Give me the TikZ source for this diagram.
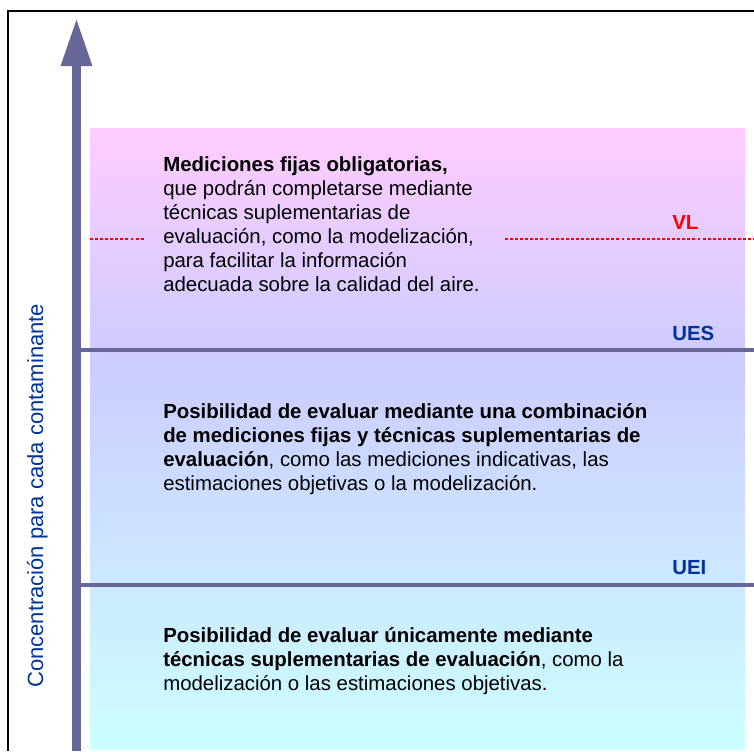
\documentclass[tikz,border=0pt]{standalone}
\usepackage{fontspec}
\setmainfont{Liberation Sans}
\usetikzlibrary{arrows.meta}
\definecolor{axisc}{HTML}{666699}
\definecolor{lblue}{HTML}{003399}
\definecolor{vlred}{HTML}{FF0000}
\definecolor{pinkc}{HTML}{FFCCFF}
\definecolor{lavc}{HTML}{CCCCFF}
\definecolor{cyanc}{HTML}{CCFFFF}
\pgfdeclareverticalshading{bgshade}{100bp}{color(0bp)=(cyanc); color(25bp)=(cyanc); color(56bp)=(lavc); color(75bp)=(pinkc); color(100bp)=(pinkc)}
\begin{document}
\begin{tikzpicture}[x=0.75pt,y=-0.75pt,
  bodytext/.style={anchor=north west, inner sep=0pt, align=left, text=black,
    font=\fontsize{15.3}{18.1}\selectfont},
  levellabel/.style={anchor=base west, inner sep=0pt, font=\fontsize{15.3}{18}\selectfont\bfseries},
  levelline/.style={draw=axisc, line width=2.5pt},
  vlline/.style={draw=vlred, line width=1pt, dash pattern=on 2.2pt off 1.6pt}]
\useasboundingbox (0,0) rectangle (754,751);
% frame
\coordinate (fb) at (8,751);
\coordinate (ftl) at (8,11);
\coordinate (ftr) at (754,11);
\draw[line width=2pt, line join=miter] (fb) -- (ftl) -- (ftr);
% gradient zone
\shade[shading=bgshade] (90,128) rectangle (745,749);
% VL dashed line
\coordinate (vl1a) at (90,239);
\coordinate (vl1b) at (145,239);
\coordinate (vl2a) at (505,239);
\coordinate (vl2b) at (754,239);
\draw[vlline] (vl1a) -- (vl1b);
\draw[vlline] (vl2a) -- (vl2b);
% level lines
\coordinate (uesa) at (78,350);
\coordinate (uesb) at (754,350);
\coordinate (ueia) at (78,585);
\coordinate (ueib) at (754,585);
\draw[levelline] (uesa) -- (uesb);
\draw[levelline] (ueia) -- (ueib);
% axis arrow
\coordinate (ab) at (76.5,751);
\coordinate (at) at (76.5,18);
\draw[axisc, line width=6.75pt, -{Triangle[width=21.75pt,length=36pt]}] (ab) -- (at);
% labels
\node[levellabel, text=vlred] (vl) at (672,229) {VL};
\node[levellabel, text=lblue] (ues) at (672,340) {UES};
\node[levellabel, text=lblue] (uei) at (672,574) {UEI};
\node[rotate=90, anchor=base west, inner sep=0pt, text=lblue,
  font=\fontsize{16.5}{20}\selectfont] (ylab) at (43,688) {Concentración para cada contaminante};
% text blocks
\node[bodytext] (t1) at (163,152.3) {\rule{0pt}{14pt}\textbf{Mediciones fijas obligatorias,}\\
que podrán completarse mediante\\
técnicas suplementarias de\\
evaluación, como la modelización,\\
para facilitar la información\\
adecuada sobre la calidad del aire.};
\node[bodytext] (t2) at (163,399.3) {\rule{0pt}{14pt}\textbf{Posibilidad de evaluar mediante una combinación}\\
\textbf{de mediciones fijas y técnicas suplementarias de}\\
\textbf{evaluación}, como las mediciones indicativas, las\\
estimaciones objetivas o la modelización.};
\node[bodytext] (t3) at (163,623.3) {\rule{0pt}{14pt}\textbf{Posibilidad de evaluar únicamente mediante}\\
\textbf{técnicas suplementarias de evaluación}, como la\\
modelización o las estimaciones objetivas.};
\end{tikzpicture}
\end{document}
